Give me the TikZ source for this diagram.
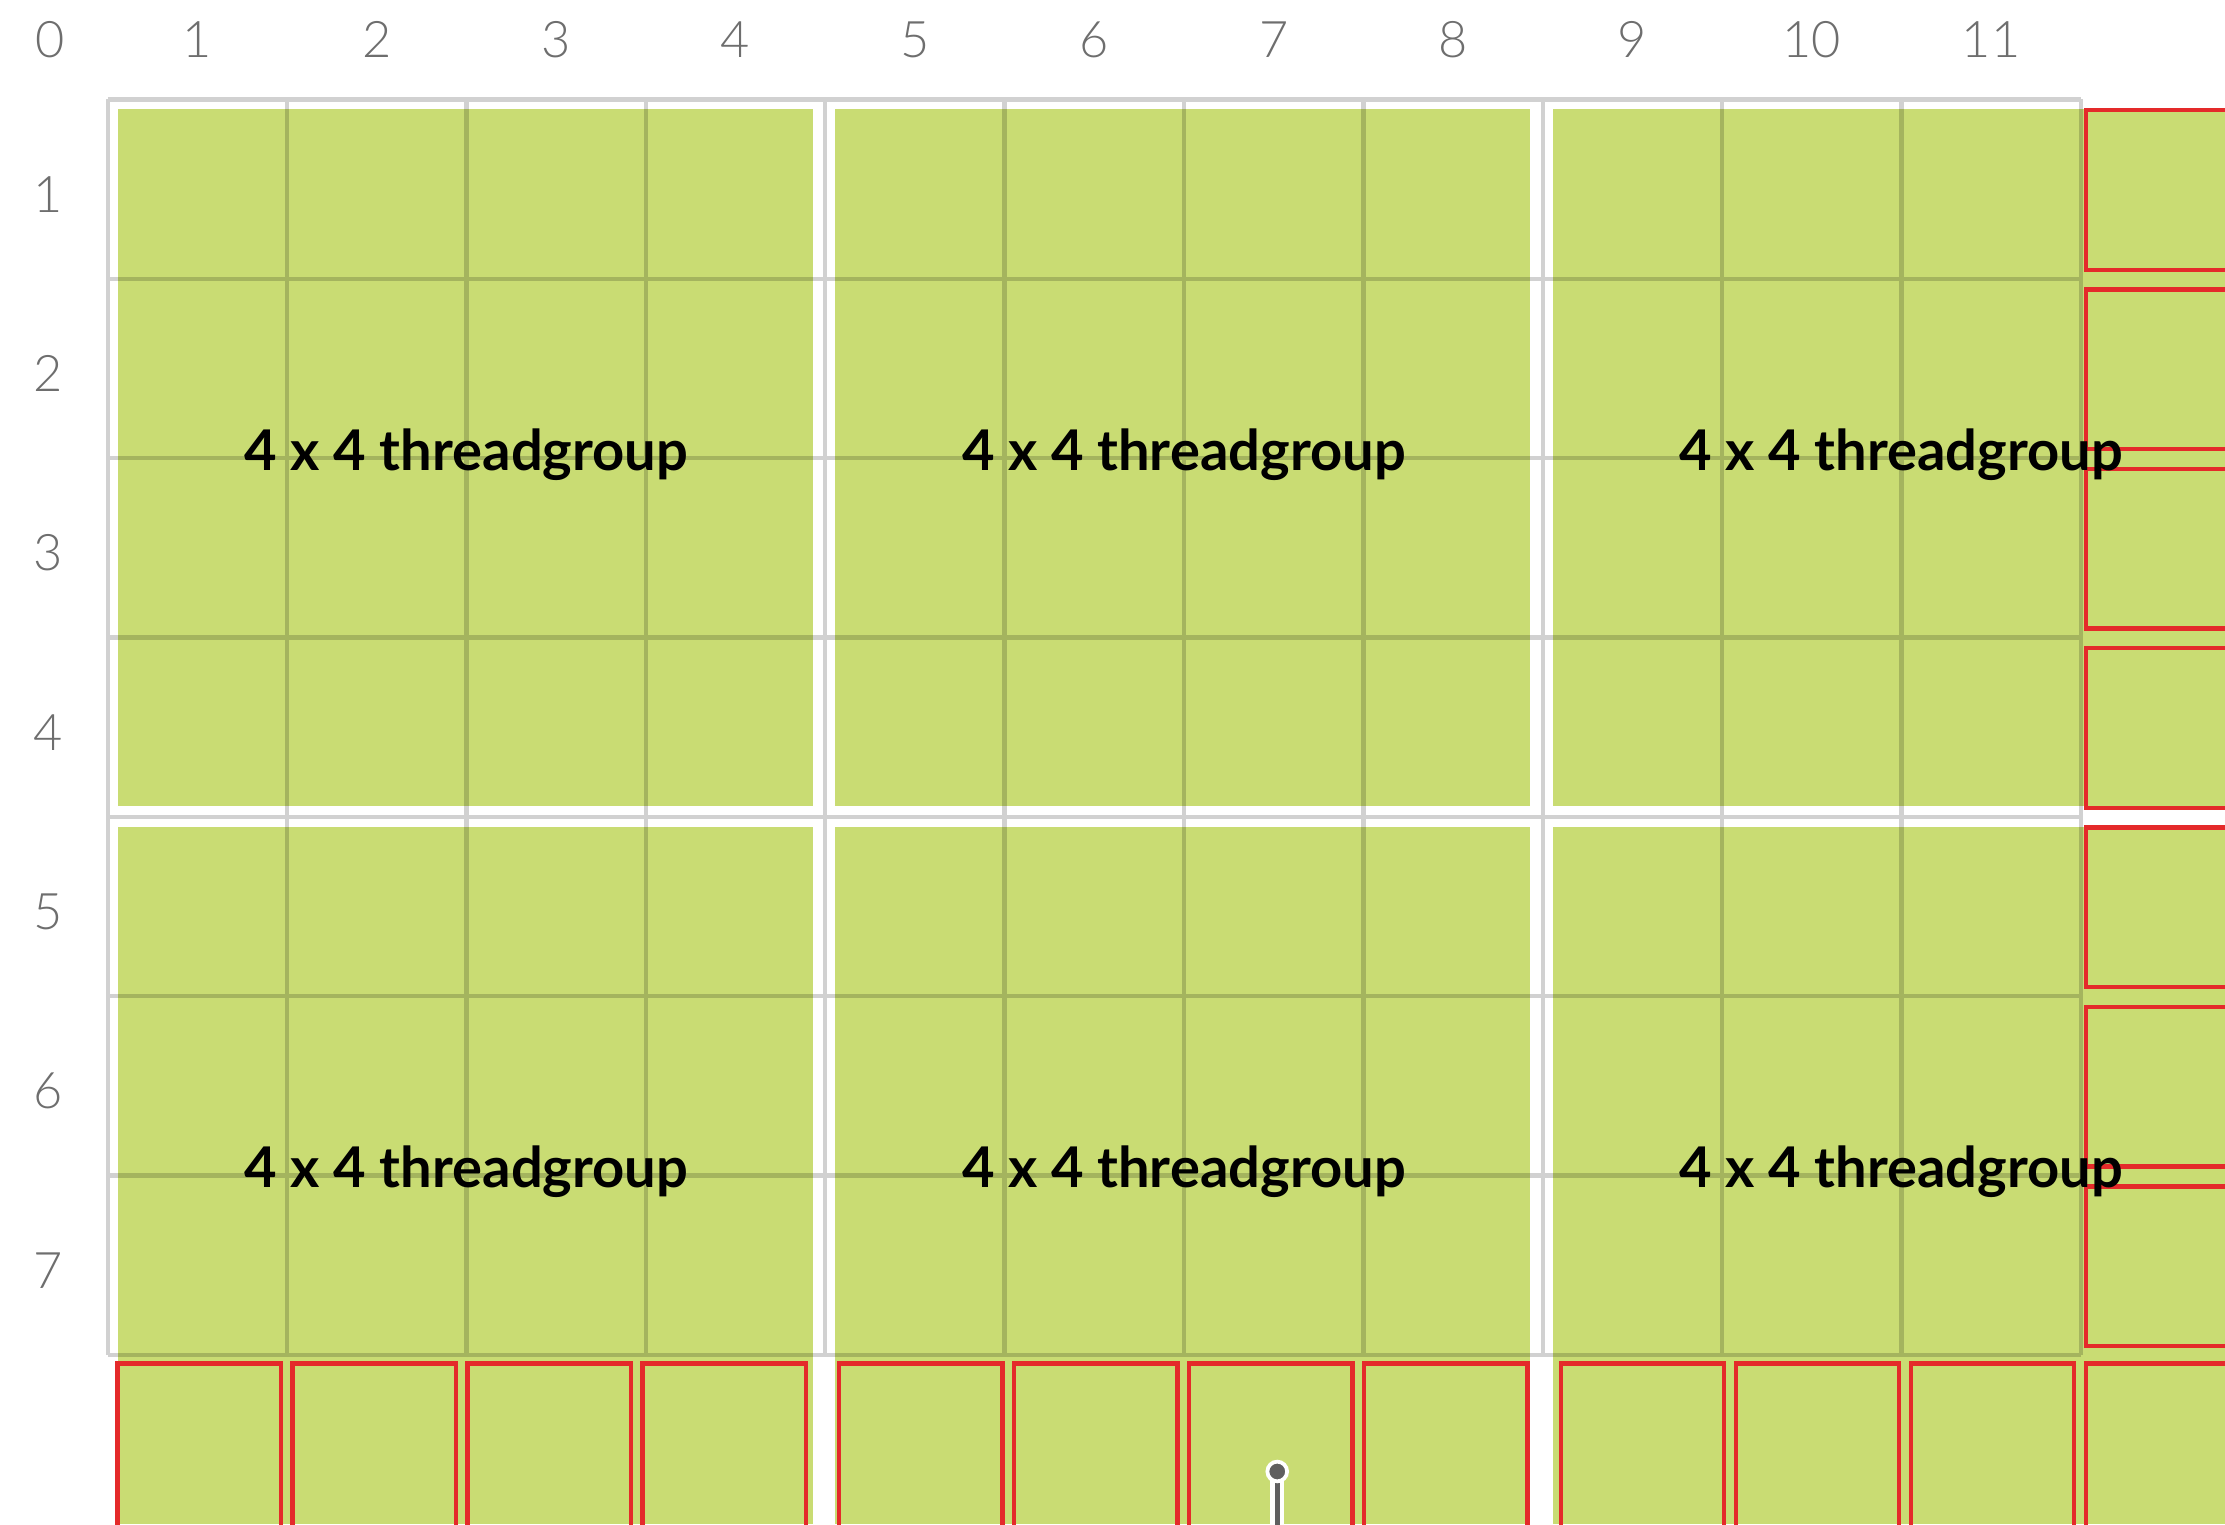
\documentclass[tikz,border=0pt]{standalone}
\usepackage{fontspec}
\setmainfont{Lato}
\newfontfamily\axisfont{Lato Light}

\definecolor{tgreen}{HTML}{C9DC73}
\definecolor{oobred}{HTML}{E42A2A}
\definecolor{axisgray}{HTML}{6E6E6E}
\definecolor{pingray}{HTML}{5F5F5F}

\tikzset{
  gridline/.style={black, opacity=0.18, line width=0.7pt},   % cell lines
  oobcell/.style={draw=oobred, line width=0.7pt},              % threads outside the texture
  axislabel/.style={text=axisgray, font=\axisfont\fontsize{8}{9}\selectfont},
  grouplabel/.style={font=\bfseries\fontsize{8.9}{10}\selectfont}
}

\begin{document}
\begin{tikzpicture}
	\useasboundingbox (-0.601,0.554) rectangle (11.804,-7.943);
	\clip (-0.601,0.554) rectangle (11.804,-7.943);

	% threadgroups
	\foreach \gx in {0,1,2}
		\foreach \gy in {0,1}
			\fill[tgreen] ({4*\gx+0.055},{-4*\gy-0.055}) rectangle ++(3.875,-3.885);

	% bottom row, out of bounds
	\foreach \gx in {0,1,2}
		\foreach \i in {0,...,3}
			\draw[oobcell] ({0.055+4.023*\gx+0.9755*\i},-7.049) rectangle ++(0.91,-0.95);
	% right column, out of bounds
	\foreach \r in {0,...,6}
		\draw[oobcell] (11.028,{-\r-0.06}) rectangle ++(0.91,-0.89);

	% grid
	\draw[gridline] (0,-7) grid (11,0);

	% axis
	\node[axislabel] (col0) at (-0.324,0.332) {0};
	\foreach \k in {1,...,11}
		\node[axislabel] (col\k) at (\k-0.5,0.332) {\k};
	\foreach \k in {1,...,7}
		\node[axislabel] (row\k) at (-0.332,-\k+0.47) {\k};

	% labels
	\foreach \gx in {0,1,2}
		\foreach \gy in {0,1}
			\node[grouplabel] (tg\gx\gy) at ({4*\gx+2},{-4*\gy-1.98}) {4 x 4 threadgroup};

	% pin
	\coordinate (pin) at (6.52,-7.65);
	\coordinate (pinend) at (6.52,-8.1);
	\draw[white, line width=2.2pt] (pin) -- (pinend);
	\draw[pingray, line width=0.8pt] (pin) -- (pinend);
	\fill[pingray, draw=white, line width=0.6pt] (pin) circle (0.055);

\end{tikzpicture}
\end{document}
